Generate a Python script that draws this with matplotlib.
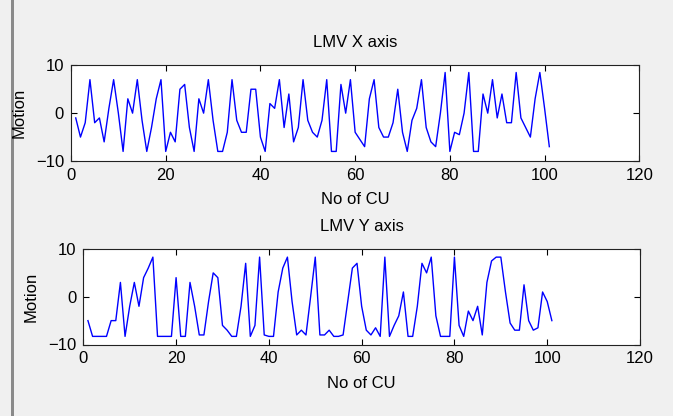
import matplotlib
matplotlib.use("Agg")
import matplotlib.pyplot as plt
from matplotlib.patches import Rectangle
import numpy as np

plt.rcParams['font.family'] = ['Liberation Sans', 'DejaVu Sans']

# ---- data ----
cu_index = list(range(1, 102))
lmv_x = [-1, -5, -2, 7, -2, -1, -6, 1, 7, 0,
         -8, 3, 0, 7, -1.5, -8, -3, 3, 7, -8,
         -4, -6, 5, 6, -3, -8, 3, 0, 7, -1.5,
         -8, -8, -4, 7, -1.5, -4, -4, 5, 5, -5,
         -8, 2, 1, 7, -3, 4, -6, -3, 7, -1.5,
         -4, -5, -1.5, 7, -8, -8, 6, 0, 7, -4,
         -5.5, -7, 3, 7, -3, -5, -5, -2, 5, -4,
         -8, -1.5, 1, 7, -3, -6, -7, 0, 8.5, -8,
         -4, -4.5, 0, 8.5, -8, -8, 4, 0, 7, -1,
         4, -2, -2, 8.5, -1, -3, -5, 3, 8.5, 1,
         -7]
lmv_y = [-5, -8.3, -8.3, -8.3, -8.3, -5, -5, 3, -8.3, -2,
         3, -2, 4, 6, 8.3, -8.3, -8.3, -8.3, -8.3, 4,
         -8.3, -8.3, 3, -2, -8, -8, -1, 5, 4, -6,
         -7, -8.3, -8.3, -2, 7, -8.3, -6, 8.3, -8, -8.3,
         -8.3, 1, 6, 8.3, -1, -8, -7, -8, 0, 8.3,
         -8, -8, -7, -8.3, -8.3, -8, -1, 6, 7, -2,
         -7, -8, -6.5, -8.3, 8.3, -8.3, -6, -4, 1, -8.3,
         -8.3, -2, 7, 5, 8.3, -4, -8.3, -8.3, -8.3, 8.3,
         -6, -8.3, -3, -5, -2, -8, 3, 7.5, 8.3, 8.3,
         1, -5.5, -7, -7, 2.5, -5, -7, -6.5, 1, -1,
         -5]
titles = ["LMV X axis", "LMV Y axis"]
xlabel_text = "No of CU"
ylabel_text = "Motion"
xticks = [0, 20, 40, 60, 80, 100, 120]
yticks = [-10, 0, 10]

W, H = 673, 416
fig = plt.figure(figsize=(W / 100, H / 100), dpi=100)
fig.patch.set_facecolor('#f0f0f0')

def px_rect(l, t, r, b):
    return [l / W, 1 - b / H, (r - l) / W, (b - t) / H]

# left gray bar
fig.add_artist(Rectangle((11 / W, 0), 2.5 / W, 1, transform=fig.transFigure,
                         facecolor='#8a8a8a', edgecolor='none'))

axes_px = [(71, 65.3, 639.3, 161), (83.3, 249, 640, 344.5)]
series = [lmv_x, lmv_y]
fs = 12

for i, (l, t, r, b) in enumerate(axes_px):
    ax = fig.add_axes(px_rect(l, t, r, b))
    ax.set_facecolor('white')
    ax.plot(cu_index, series[i], color='#0000ff', linewidth=1.0)
    ax.set_xlim(0, 120)
    ax.set_ylim(-10, 10)
    ax.set_xticks(xticks)
    ax.set_yticks(yticks)
    ax.tick_params(direction='in', length=4.3, width=0.8, top=True, right=True,
                   labelsize=fs, colors='black', pad=5)
    for s in ax.spines.values():
        s.set_linewidth(0.8)
        s.set_color('#222222')
    cx = (l + r) / 2
    fig.text(cx / W, 1 - (t - 22.5) / H, titles[i], ha='center', va='center', fontsize=fs)
    fig.text(cx / W, 1 - (b + 38.5) / H, xlabel_text, ha='center', va='center', fontsize=fs)
    fig.text((l - 52) / W, 1 - ((t + b) / 2) / H, ylabel_text, ha='center', va='center',
             rotation=90, fontsize=fs)

fig.savefig('out.png', dpi=100, facecolor=fig.get_facecolor())
